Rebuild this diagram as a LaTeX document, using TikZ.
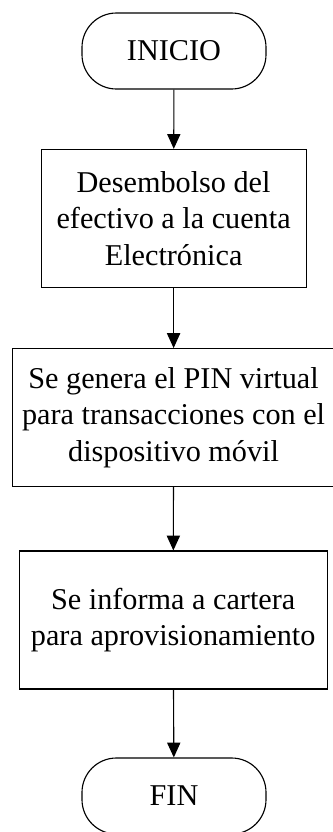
\documentclass[tikz,border=0pt]{standalone}
\usepackage{fontspec}
\setmainfont{Liberation Serif}
\usepackage{tikz}
\usetikzlibrary{positioning, arrows.meta}

\tikzset{
    terminal/.style={draw, line width=0.8pt, rounded corners=0.86cm, minimum width=4.6cm, minimum height=1.9cm, align=center, font=\fontsize{21.5pt}{26pt}\selectfont},
    process/.style={draw, line width=0.8pt, minimum height=3.45cm, align=center, inner sep=0pt, font=\fontsize{21.5pt}{26pt}\selectfont},
    flow/.style={line width=0.8pt, -{Triangle[length=0.37cm, width=0.33cm]}}
}

\begin{document}
\begin{tikzpicture}
                \useasboundingbox (0,0) rectangle (8.3,-20.8);
                
                %Start and end
                \node[terminal] (inicio) at (4.35,-1.275) {INICIO};
                \node[terminal] (fin) at (4.35,-19.9) {FIN};
                
                %Steps
                \node[process, minimum width=6.625cm] (desembolso) at (4.34,-5.46) {Desembolso del\\efectivo a la cuenta\\Electrónica};
                \node[process, minimum width=8.075cm] (pin) at (4.34,-10.44) {Se genera el PIN virtual\\para transacciones con el\\dispositivo móvil};
                \node[process, minimum width=7.7cm] (cartera) at (4.33,-15.5) {Se informa a cartera\\para aprovisionamiento};
                
                %Arrows
                \draw[flow] (inicio) -- (desembolso);
                \draw[flow] (desembolso) -- (pin);
                \draw[flow] (pin) -- (cartera);
                \draw[flow] (cartera) -- (fin);
                    
\end{tikzpicture}
\end{document}
